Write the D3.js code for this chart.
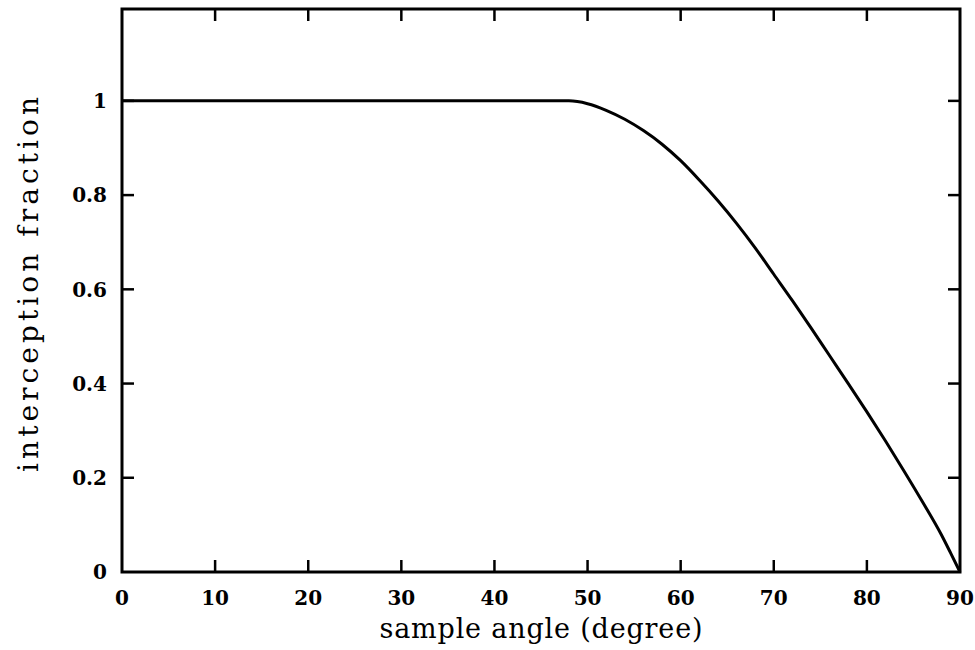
<!DOCTYPE html>
<html>
<head>
<meta charset="utf-8">
<script src="https://cdn.jsdelivr.net/npm/d3@7"></script>
<style>
  html, body { margin: 0; padding: 0; background: #fff; }
  svg { display: block; }
</style>
</head>
<body>
<svg id="chart" width="975" height="650"></svg>
<script>
// Interception fraction versus sample angle
const angles = [0, 10, 20, 30, 40, 45, 48, 50, 52, 54, 56, 58, 60, 62, 64, 66, 68, 70, 72, 74, 76, 78, 80, 82, 84, 86, 88, 89, 90];
const fractions = [1, 1, 1, 1, 1, 1, 1, 0.994, 0.980, 0.961, 0.937, 0.908, 0.873, 0.832, 0.788, 0.740, 0.688, 0.632, 0.576, 0.518, 0.459, 0.400, 0.340, 0.278, 0.214, 0.148, 0.079, 0.040, 0];

const xTicks = [0, 10, 20, 30, 40, 50, 60, 70, 80, 90];
const yTicks = [0, 0.2, 0.4, 0.6, 0.8, 1];
const xTickLabels = ["0", "10", "20", "30", "40", "50", "60", "70", "80", "90"];
const yTickLabels = ["0", "0.2", "0.4", "0.6", "0.8", "1"];
const xTitle = "sample angle (degree)";
const yTitle = "interception fraction";

const margin = { left: 122, right: 15, top: 9, bottom: 78 };
const W = 975, H = 650;
const svg = d3.select("#chart");

const x = d3.scaleLinear().domain([0, 90]).range([margin.left, W - margin.right]);
const y = d3.scaleLinear().domain([0, 1.195]).range([H - margin.bottom, margin.top]);

const tickFont = "'DejaVu Serif', serif";
const titleFont = "'DejaVu Serif', serif";
const tickLen = 12;
const innerX = xTicks.filter(v => v > 0 && v < 90);
const innerY = yTicks.filter(v => v > 0);

// Inward ticks on all four sides
const ticks = svg.append("g").attr("stroke", "#000").attr("stroke-width", 2.5);
innerX.forEach(v => {
  ticks.append("line").attr("x1", x(v)).attr("x2", x(v)).attr("y1", y(0)).attr("y2", y(0) - tickLen);
  ticks.append("line").attr("x1", x(v)).attr("x2", x(v)).attr("y1", y.range()[1]).attr("y2", y.range()[1] + tickLen);
});
innerY.forEach(v => {
  ticks.append("line").attr("x1", x(0)).attr("x2", x(0) + tickLen).attr("y1", y(v)).attr("y2", y(v));
  ticks.append("line").attr("x1", x(90)).attr("x2", x(90) - tickLen).attr("y1", y(v)).attr("y2", y(v));
});

// Tick labels
svg.append("g").selectAll("text").data(xTicks).join("text")
  .attr("x", d => x(d)).attr("y", y(0) + 33)
  .attr("text-anchor", "middle")
  .attr("font-family", tickFont).attr("font-weight", "bold").attr("font-size", 20)
  .text((d, i) => xTickLabels[i]);

svg.append("g").selectAll("text").data(yTicks).join("text")
  .attr("x", x(0) - 15).attr("y", d => y(d)).attr("dy", "0.36em")
  .attr("text-anchor", "end")
  .attr("font-family", tickFont).attr("font-weight", "bold").attr("font-size", 20)
  .text((d, i) => yTickLabels[i]);

// Curve
const line = d3.line().x((d, i) => x(angles[i])).y(d => y(d)).curve(d3.curveMonotoneX);
svg.append("path").datum(fractions)
  .attr("d", line)
  .attr("fill", "none").attr("stroke", "#000").attr("stroke-width", 3)
  .attr("stroke-linejoin", "round");

// Frame
svg.append("rect")
  .attr("x", x(0)).attr("y", y.range()[1])
  .attr("width", x(90) - x(0)).attr("height", y(0) - y.range()[1])
  .attr("fill", "none").attr("stroke", "#000").attr("stroke-width", 3);

// Axis titles
svg.append("text")
  .attr("x", (x(0) + x(90)) / 2).attr("y", 638)
  .attr("text-anchor", "middle")
  .attr("font-family", titleFont).attr("font-size", 27)
  .attr("textLength", 323).attr("lengthAdjust", "spacing")
  .text(xTitle);

svg.append("text")
  .attr("transform", `translate(38, ${(y(0) + y.range()[1]) / 2 - 6}) rotate(-90)`)
  .attr("text-anchor", "middle")
  .attr("font-family", titleFont).attr("font-size", 28)
  .attr("textLength", 375).attr("lengthAdjust", "spacing")
  .text(yTitle);
</script>
</body>
</html>
